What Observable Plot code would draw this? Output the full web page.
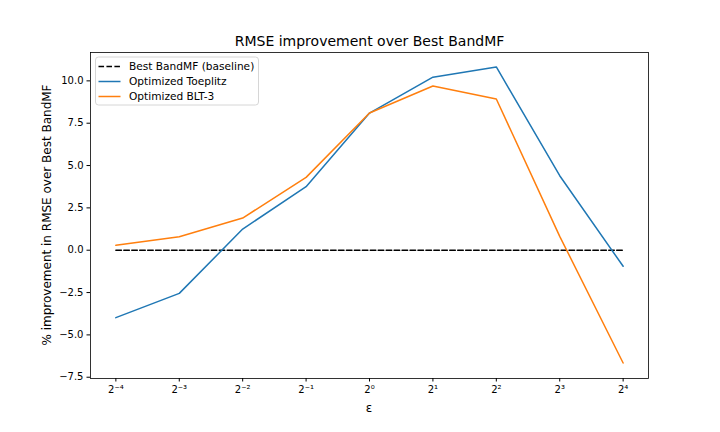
<!DOCTYPE html>
<html>
<head>
<meta charset="utf-8">
<script src="https://cdn.jsdelivr.net/npm/d3@7"></script>
<script src="https://cdn.jsdelivr.net/npm/@observablehq/plot@0.6"></script>
<style>
  html, body { margin: 0; padding: 0; background: #fff; }
  #chart { width: 720px; height: 432px; }
</style>
</head>
<body>
<div id="chart"></div>
<script>
// Data (x = log2 of epsilon)
const exponents = [-4, -3, -2, -1, 0, 1, 2, 3, 4];
const toeplitz = [-3.98, -2.55, 1.25, 3.75, 8.1, 10.22, 10.82, 4.4, -0.95];
const blt3 = [0.29, 0.8, 1.9, 4.3, 8.1, 9.7, 8.93, 0.82, -6.66];
const baseline = [0, 0, 0, 0, 0, 0, 0, 0, 0];
const yTicks = [-7.5, -5.0, -2.5, 0.0, 2.5, 5.0, 7.5, 10.0];
const seriesNames = ["Best BandMF (baseline)", "Optimized Toeplitz", "Optimized BLT-3"];
const seriesColors = ["#000000", "#1f77b4", "#ff7f0e"];
const titleText = "RMSE improvement over Best BandMF";
const xLabel = "ε";
const yLabel = "% improvement in RMSE over Best BandMF";

const sup = {"-": "⁻", "0": "⁰", "1": "¹", "2": "²", "3": "³", "4": "⁴", "5": "⁵", "6": "⁶", "7": "⁷", "8": "⁸", "9": "⁹"};
const toSup = (k) => String(k).split("").map(c => sup[c]).join("");

const mk = (vals, name) => exponents.map((e, i) => ({eps: 2 ** e, v: vals[i], name}));
const dBase = mk(baseline, seriesNames[0]);
const dToe = mk(toeplitz, seriesNames[1]);
const dBlt = mk(blt3, seriesNames[2]);

const W = 720, H = 432;
const mL = 90, mR = 72, mT = 52, mB = 54;

const plot = Plot.plot({
  width: W,
  height: H,
  marginLeft: mL,
  marginRight: mR,
  marginTop: mT,
  marginBottom: mB,
  style: {fontFamily: "DejaVu Sans", fontSize: "10px", color: "#000", background: "#fff", overflow: "visible"},
  x: {
    type: "log",
    base: 2,
    domain: [2 ** -4.4, 2 ** 4.4],
    ticks: exponents.map(e => 2 ** e),
    tickFormat: d => "2" + toSup(Math.round(Math.log2(d))),
    tickSize: 3.5,
    tickPadding: 3.5,
    label: null
  },
  y: {
    domain: [-7.575, 11.675],
    ticks: yTicks,
    tickFormat: d => d3.format(".1f")(d).replace("-", "−"),
    tickSize: 3.5,
    tickPadding: 3.5,
    label: null
  },
  marks: [
    Plot.line(dBase, {x: "eps", y: "v", stroke: seriesColors[0], strokeWidth: 1.5, strokeDasharray: "5.55,2.4"}),
    Plot.line(dToe, {x: "eps", y: "v", stroke: seriesColors[1], strokeWidth: 1.5}),
    Plot.line(dBlt, {x: "eps", y: "v", stroke: seriesColors[2], strokeWidth: 1.5}),
    Plot.frame({stroke: "#000", strokeWidth: 0.8}),
    Plot.text([titleText], {frameAnchor: "top", dy: -11, fontSize: 14, fill: "#000", lineAnchor: "middle"})
  ]
});

const svg = d3.select(plot);
// Axis labels
svg.append("text").attr("x", mL + (W - mL - mR) / 2).attr("y", 408).attr("dy", "0.35em")
  .attr("text-anchor", "middle").attr("font-family", "DejaVu Sans").attr("font-size", 12).attr("fill", "#000").text(xLabel);
svg.append("text").attr("transform", `translate(47,${mT + (H - mT - mB) / 2}) rotate(-90)`).attr("dy", "0.35em")
  .attr("text-anchor", "middle").attr("font-family", "DejaVu Sans").attr("font-size", 12).attr("fill", "#000").text(yLabel);

// Legend
const lg = svg.append("g").attr("font-family", "DejaVu Sans").attr("font-size", 10.6).attr("text-anchor", "start");
const lx = 95.5, ly = 57, lw = 163, lh = 48;
lg.append("rect").attr("x", lx).attr("y", ly).attr("width", lw).attr("height", lh)
  .attr("rx", 3).attr("fill", "#fff").attr("fill-opacity", 0.8).attr("stroke", "#cccccc").attr("stroke-width", 0.8);
seriesNames.forEach((name, i) => {
  const y = ly + 9.5 + i * 15;
  lg.append("line").attr("x1", lx + 3).attr("x2", lx + 25).attr("y1", y).attr("y2", y)
    .attr("stroke", seriesColors[i]).attr("stroke-width", 1.5)
    .attr("stroke-dasharray", i === 0 ? "5.55,2.4" : null);
  lg.append("text").attr("x", lx + 33.5).attr("y", y).attr("dy", "0.35em").attr("text-anchor", "start").attr("fill", "#000").text(name);
});

document.getElementById("chart").appendChild(plot);
</script>
</body>
</html>
